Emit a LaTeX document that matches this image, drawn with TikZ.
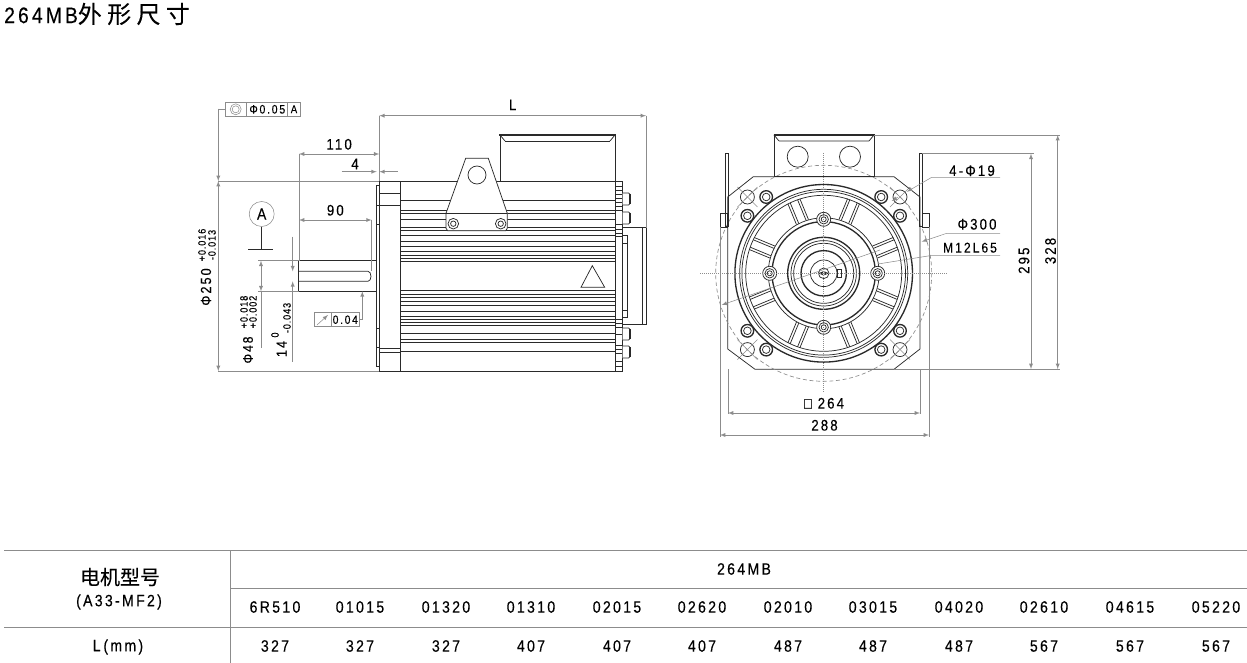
\documentclass[tikz,border=0pt]{standalone}
\usepackage{fontspec}
\setmainfont[FakeStretch=0.86,LetterSpace=14,FakeBold=0.2]{Liberation Sans}
\newfontfamily\cjk[FakeBold=0.2]{Noto Sans CJK SC}
\definecolor{inkline}{HTML}{2A2A2A}
\definecolor{dimline}{HTML}{8C8C8C}
\tikzset{
	outline/.style = {draw=inkline, line width=0.55pt},
	heavy/.style = {draw=inkline, line width=1pt},
	dimen/.style = {draw=dimline, line width=0.4pt},
	arrowdim/.style = {dimen, latex-latex, >=latex},
	lbl/.style = {font=\fontsize{11.5}{13}\selectfont, text=black, inner sep=0pt},
	tol/.style = {font=\fontsize{8}{9}\selectfont\addfontfeatures{LetterSpace=8}, text=black, inner sep=0pt},
	cell/.style = {font=\fontsize{12.3}{14}\selectfont, text=black, inner sep=0pt},
	centerline/.style = {draw=dimline, line width=0.5pt, densely dotted},
	screwhead/.pic = {
		\draw[outline, fill=white] (0,0) circle (5.3);
		\draw[outline] (0,0) circle (2.7);
	},
	capbolt/.pic = {
		\draw[heavy, fill=white] (0,0) circle (6.3);
		\draw[outline] (0,0) circle (3.8);
	},
	fixhole/.pic = {
		\draw[outline] (0,0) circle (7);
		\draw[dimen] (-10,-10) -- (10,10) (-10,10) -- (10,-10);
	}
}
\begin{document}
\begin{tikzpicture}[x=0.75pt, y=-0.75pt]
			\useasboundingbox (0,0) rectangle (1247,663);
			\node[anchor=west, inner sep=0pt, font=\fontsize{16.8}{18}\selectfont] (title) at (4,14) {264MB{\cjk\fontsize{18}{18}\selectfont 外\hspace{4pt}形\hspace{4pt}尺\hspace{4pt}寸}};

			% side view
			\draw[outline] (379.3,181) rectangle (400.7,371);
			\draw[outline] (376.7,185) rectangle (379.3,366.7);
			\foreach \y in {193.3,205,348,352} {\draw[outline] (379.3,\y) -- (400.7,\y);}
			\foreach \y in {205,224,328,347} {\draw[outline] (376.7,\y) -- (379.3,\y);}
			\draw[outline] (400.7,181) -- (615,181) (400.7,371) -- (615,371);
			\foreach \y in {200.3,210.7,213.7,219.3,227.3,230.7,235,241.3,246.7,251,255.7,258.3,261.7,290.7,294.3,297.3,301.7,305.7,311,316.7,319.3,322.3,325,333.3,339.3,342.3,351.7} {\draw[outline] (400.7,\y) -- (615,\y);}
			\draw[outline] (615,181) rectangle (622.7,371);
			\foreach \y in {186,190,194,198,202,206,210,224,229,233,236,319,323,327,334,345,349,353,361,366} {\draw[outline] (615,\y) -- (622.7,\y);}
			\foreach \y in {199,218,334,352} {
				\draw[outline, fill=white, rounded corners=1pt] (622.7,\y-6) -- (630,\y-6) -- (630,\y+6) -- (622.7,\y+6);
				\draw[heavy] (630,\y-5) -- (630,\y+5);
			}
			\draw[outline] (622.7,227.7) -- (646,227.7) -- (646,324) -- (622.7,324) (642.7,227.7) -- (642.7,324);
			\foreach \y in {235,243,310,317} {\draw[outline] (622.7,\y) -- (627.5,\y);}
			\draw[outline] (627.5,235) -- (627.5,317);
			% terminal box
			\draw[outline] (500,181) -- (500,135) (615,135) -- (615,181);
			\draw[outline] (505,141) -- (610,141);
			\draw[outline] (500,135) -- (505,141) (615,135) -- (610,141);
			\draw[heavy] (499,135) -- (615.5,135);
			% lifting bracket
			\draw[outline, fill=white] (465.7,158.3) -- (488.3,158.3) -- (507.3,213.3) -- (507.3,228.3) -- (505.7,230.7) -- (447.7,230.7) -- (446,228.3) -- (446,213.3) -- cycle;
			\draw[outline] (446,213.3) -- (507.3,213.3);
			\draw[outline] (477,175) circle (9);
			\pic at (453.3,223.7) {screwhead};
			\pic at (500.7,223.7) {screwhead};
			\draw[outline] (592.3,265.7) -- (581,287.3) -- (604.7,287.3) -- cycle;
			% shaft
			\draw[outline] (298.7,260.7) rectangle (376.7,291.3);
			\draw[outline] (298.7,271.3) -- (368,271.3) arc (-90:90:3 and 5) -- (298.7,281.3);

			% side view dimensions
			\coordinate (flangeL) at (379.3,181);
			\draw[dimen] (379.3,115.7) -- (flangeL);
			\draw[dimen] (646,115.7) -- (646,227.7);
			\draw[arrowdim] (379.3,115.7) -- node[lbl, above=4pt] (dimL) {L} (646,115.7);
			\draw[dimen] (299,154) -- (299,260.7);
			\draw[arrowdim] (299,154) -- node[lbl, above=3pt] (dim110) {110} (379.3,154);
			\draw[dimen, -latex] (341.7,171.7) -- (376.7,171.7);
			\draw[dimen, -latex] (397.7,171.7) -- (379.3,171.7);
			\node[lbl] (dim4) at (355,164) {4};
			\draw[arrowdim] (299,220) -- node[lbl, above=3pt] (dim90) {90} (371.6,220);
			\draw[dimen] (371.6,220) -- (371.6,271.3);
			\draw[dimen] (218.3,181) -- (flangeL);
			\draw[dimen] (218.3,371) -- (379.3,371);
			\draw[dimen, -latex] (218.3,108.7) -- (218.3,181);
			\draw[dimen, latex-latex] (218.3,181) -- (218.3,371);
			\draw[dimen] (258,260.7) -- (298.7,260.7) (258,291.3) -- (298.7,291.3);
			\draw[arrowdim] (261,260.7) -- (261,291.3);
			\draw[dimen] (261,291.3) -- (261,348);
			\draw[dimen, -latex] (292.7,236.7) -- (292.7,271.3);
			\draw[dimen, -latex] (292.7,361.7) -- (292.7,281.3);
			\node[lbl, rotate=90, font=\fontsize{11}{13}\selectfont] (phi250) at (206,287) {Φ250};
			\node[tol, rotate=90] (tolA) at (202,245) {+0.016};
			\node[tol, rotate=90] (tolB) at (212,245) {-0.013};
			\node[lbl, rotate=90, font=\fontsize{10.5}{13}\selectfont] (phi48) at (248,350) {Φ48};
			\node[tol, rotate=90] (tolC) at (244,312) {+0.018};
			\node[tol, rotate=90] (tolD) at (253,312) {+0.002};
			\node[lbl, rotate=90, font=\fontsize{11}{13}\selectfont] (width14) at (281.7,349) {14};
			\node[tol, rotate=90] (tolE) at (275,335) {0};
			\node[tol, rotate=90] (tolF) at (287,318) {-0.043};
			\node[draw=dimline, circle, minimum size=18.75pt, inner sep=0pt, font=\fontsize{12}{13}\selectfont] (datumA) at (261.7,214) {A};
			\coordinate (datumfoot) at (261.7,249);
			\draw[inkline, line width=0.45pt] (datumA) -- (datumfoot);
			\draw[inkline, line width=0.45pt] (248,249) -- (273,249);
			% tolerance frames
			\node[draw=dimline, minimum width=56.2pt, minimum height=10pt, inner sep=0pt] (frameA) at (262.5,109.3) {};
			\draw[dimen] (246.7,102.7) -- (246.7,116) (287.7,102.7) -- (287.7,116);
			\draw[dimen] (235.7,109.3) circle (5.5) (235.7,109.3) circle (3.5);
			\node[lbl, font=\fontsize{9.2}{10}\selectfont] (frameAval) at (267.3,109.3) {Φ0.05};
			\node[lbl, font=\fontsize{8.5}{10}\selectfont] (frameAref) at (294,109.3) {A};
			\draw[dimen] (frameA.west) -- (218.3,109.3);
			\node[draw=dimline, minimum width=33.5pt, minimum height=10.5pt, inner sep=0pt] (frameB) at (336.7,319.7) {};
			\draw[dimen] (331.3,312.7) -- (331.3,326.7);
			\draw[dimen, -latex] (317,325) -- (328,315);
			\node[lbl, font=\fontsize{9}{10}\selectfont] (frameBval) at (345.3,319.7) {0.04};
			\coordinate (runout) at (362.3,291.3);
			\draw[dimen, -latex] (frameB.east) -| (runout);

			% front view
			\begin{scope}[shift={(823.7,273.3)}]
				\draw[heavy] (0,0) circle (88.8) (0,0) circle (51.7);
				\draw[outline] (0,0) circle (84) (0,0) circle (81.8) (0,0) circle (78) (0,0) circle (55.5);
				\foreach \a in {22.5,67.5,...,337.5} {
					\draw[outline, rotate=\a] (55.5,-6.5) -- (78,-6.5) (55.5,6.5) -- (78,6.5) (55.5,-4) -- (78,-4) (55.5,4) -- (78,4);
				}
				\draw[heavy] (0,0) circle (36) (0,0) circle (22.7);
				\draw[outline] (0,0) circle (32.7) (0,0) circle (30) (0,0) circle (13.3);
				\draw[outline] (0,0) circle (5.3);
				\draw[outline] (14,-4.3) rectangle (18,4.3);
				\draw[inkline, line width=0.4pt, latex-latex] (-6,0) -- (6,0);
				\foreach \a in {0,90,180,270} {
					\draw[outline, fill=white, rotate=\a] (54,0) circle (7);
					\draw[outline, rotate=\a] (54,0) circle (4.7) (54,0) circle (2.5);
				}
				\foreach \dx/\dy in {-1/-1,1/-1,-1/1,1/1} {
					\pic at (\dx*76.3,\dy*76.3) {fixhole};
					\pic at (\dx*57.5,\dy*76.3) {capbolt};
					\pic at (\dx*76.3,\dy*57.5) {capbolt};
				}
			\end{scope}
			\draw[outline] (753.3,176.7) -- (894,176.7) -- (920,197) -- (920,349) -- (894,369.3) -- (755,369.3) -- (727.7,349) -- (727.7,197) -- cycle;
			\draw[dimline, line width=0.5pt, densely dashed] (823.7,273.3) circle (108);
			\draw[centerline] (700,273.3) -- (947,273.3);
			\draw[centerline] (823.7,153) -- (823.7,392);
			% terminal box, front
			\draw[outline] (774,176.7) -- (774,135) (874,135) -- (874,176.7);
			\draw[outline] (779,141) -- (869,141) (774,135) -- (779,141) (874,135) -- (869,141);
			\draw[heavy] (773.5,135) -- (874.5,135) (774,176.7) -- (874,176.7);
			\draw[outline] (797.7,156.7) circle (10.5) (850,156.7) circle (10.5);
			% side lugs
			\foreach \x in {725,919.3} {\draw[outline] (\x,153) rectangle (\x+3.3,226.7);}
			\draw[outline] (720,213) rectangle (727,227);
			\draw[outline] (922.7,213) rectangle (929,227);

			% front view dimensions
			\draw[dimen] (720,227) -- (720,437) (929,227) -- (929,437);
			\draw[dimen] (728,369) -- (728,414) (920,369) -- (920,414);
			\draw[arrowdim] (728,413) -- node[lbl, above=3pt] (dim264) {□ 264} (920,413);
			\draw[arrowdim] (720,435) -- node[lbl, above=3pt] (dim288) {288} (929,435);
			\draw[dimen] (874,135) -- (1060,135) (922,153.7) -- (1034,153.7) (894,369) -- (1060,369);
			\draw[arrowdim] (1031,153.7) -- (1031,369);
			\draw[arrowdim] (1057.7,135) -- (1057.7,369);
			\node[lbl, rotate=90] (dim295) at (1024,260.7) {295};
			\node[lbl, rotate=90] (dim328) at (1050.5,251) {328};
			\draw[dimen, -latex] (1000,177.3) -- (931.7,177.3) -- (907,191.7);
			\draw[dimen, -latex] (898,197) -- (891.7,201);
			\node[lbl] (hole) at (972,170.7) {4-Φ19};
			\draw[dimen, -latex] (1000,233.3) -- (946.7,233.3) -- (921.7,241.7);
			\draw[dimen, -latex] (880,250) -- (721.7,305);
			\node[lbl] (pcd) at (977,224.3) {Φ300};
			\draw[dimen] (1000,255.7) -- (930,255.7) -- (878,264);
			\node[lbl, font=\fontsize{10.6}{12}\selectfont] (thread) at (970,247.7) {M12L65};

			% table
			\draw[dimline, line width=0.7pt] (4,550.3) -- (1247,550.3) (231,588.7) -- (1247,588.7) (4,627) -- (1247,627) (230.7,550.3) -- (230.7,663);
			\node[cell, font=\fontsize{15}{16}\selectfont\cjk] (model) at (120,577) {电机型号};
			\node[cell] (series) at (119,602) {(A33-MF2)};
			\node[cell] (lmm) at (118,647) {L\,(mm)};
			\node[cell] (family) at (744,569) {264MB};
			\foreach \i/\cx/\name/\len in {1/275/6R510/327,2/360/01015/327,3/446/01320/327,4/531/01310/407,5/617/02015/407,6/702/02620/407,7/788/02010/487,8/873/03015/487,9/959/04020/487,10/1044/02610/567,11/1130/04615/567,12/1216/05220/567} {
				\node[cell] (code\i) at (\cx,607) {\name};
				\node[cell] (len\i) at (\cx,646) {\len};
			}
			\end{tikzpicture}
\end{document}
